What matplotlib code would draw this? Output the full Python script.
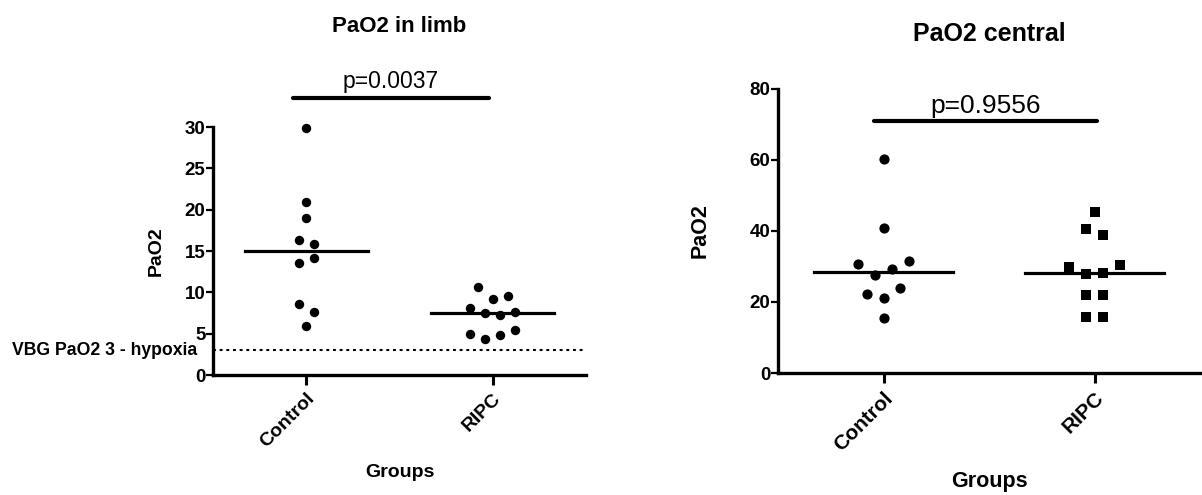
import numpy as np
import matplotlib
matplotlib.use("Agg")
import matplotlib.pyplot as plt

# values (order within a list = left-to-right order inside a row)
groups = ["Control", "RIPC"]
limb_control = [29.9, 20.9, 19.0, 16.3, 15.9, 13.5, 14.2, 8.6, 7.6, 5.9]
limb_ripc = [10.6, 9.25, 9.5, 8.1, 7.5, 7.2, 7.6, 4.9, 4.35, 4.8, 5.5]
central_control = [60.3, 40.9, 30.8, 27.7, 29.4, 31.6, 22.2, 21.1, 23.9, 15.5]
central_ripc = [45.4, 40.7, 38.9, 29.9, 27.9, 28.2, 30.5, 22.1, 22.1, 15.9, 15.9]
p_limb = "p=0.0037"
p_central = "p=0.9556"
hypoxia_level = 3
hypoxia_label = "VBG PaO2 3 - hypoxia"
limb_ticks = [0, 5, 10, 15, 20, 25, 30]
central_ticks = [0, 20, 40, 60, 80]

plt.rcParams['font.family'] = ['Liberation Sans', 'DejaVu Sans']
W, H = 1202, 495


def swarm(vals, row_h, step=0.08):
    """prism-like dot spread: bin values into rows, centre each row on the group."""
    vals = np.asarray(vals, float)
    order = np.argsort(-vals, kind="stable")
    rows, cur, top = [], [], None
    for i in order:
        if top is None or top - vals[i] <= row_h:
            if top is None: top = vals[i]
            cur.append(i)
        else:
            rows.append(cur); cur = [i]; top = vals[i]
    rows.append(cur)
    off = np.zeros(len(vals))
    for r in rows:
        r = sorted(r)
        for k, i in enumerate(r):
            off[i] = (k - (len(r) - 1) / 2) * step
    return off


def panel(rect, ctl, rip, ylim, ticks, row_h, msize, markers, fs_lab, fs_xt, title, t_base,
          ptxt, pbar, p_base, fs_p, fs_title, xlab_base, ylab_x):
    ax = fig.add_axes(rect)
    for g, (vals, m) in enumerate(zip([ctl, rip], markers)):
        x = g + swarm(vals, row_h)
        ax.scatter(x, vals, s=msize[m], marker=m, color="k", linewidths=0, zorder=3,
                   clip_on=False)
        med = np.median(vals)
        ax.plot([g - 0.33, g + 0.33], [med, med], color="k", lw=2.3, zorder=2)
    ax.set_xlim(-0.5, 1.5); ax.set_ylim(*ylim)
    ax.set_xticks(range(len(groups)))
    ax.set_xticklabels(groups, rotation=45, ha="right", rotation_mode="anchor",
                       fontsize=fs_xt, fontweight="bold")
    ax.set_yticks(ticks)
    ax.set_yticklabels([str(t) for t in ticks], fontsize=13.5, fontweight="bold")
    for s in ["top", "right"]: ax.spines[s].set_visible(False)
    for s in ["left", "bottom"]: ax.spines[s].set_linewidth(2.4)
    ax.tick_params(axis="y", length=5, width=1.6, pad=0.5)
    ax.tick_params(axis="x", length=7, width=2.2, pad=4)
    # significance bar
    x0, x1, yb = pbar
    ax.plot([x0, x1], [yb, yb], color="k", lw=3, solid_capstyle="round", clip_on=False)
    cx = rect[0] + rect[2] * ((x0 + x1) / 2 + 0.5) / 2
    fig.text(cx, 1 - p_base / H, ptxt, ha="center", va="baseline", fontsize=fs_p)
    fig.text(rect[0] + rect[2] / 2, 1 - t_base / H, title, ha="center", va="baseline",
             fontsize=fs_title, fontweight="bold")
    fig.text(rect[0] + rect[2] / 2, 1 - xlab_base / H, "Groups", ha="center",
             va="baseline", fontsize=fs_lab, fontweight="bold")
    ax.set_ylabel("PaO2", fontsize=fs_lab, fontweight="bold")
    ax.yaxis.set_label_coords(ylab_x, 0.5)
    return ax


fig = plt.figure(figsize=(W / 100, H / 100), dpi=100)

ax1 = panel([213 / W, 1 - 375 / H, 373 / W, 248 / H], limb_control, limb_ripc,
            (0, 30), limb_ticks, 1.8, {"o": 46}, ["o", "o"], 14, 14, "PaO2 in limb", 32,
            p_limb, (-0.07, 0.98, 33.5), 88, 16.5, 16, 477, -0.13)
ax1.axhline(hypoxia_level, color="k", lw=1.5, linestyle=(0, (1.4, 1.8)), zorder=1)
ax1.text(-0.043, hypoxia_level, hypoxia_label, transform=ax1.get_yaxis_transform(),
         ha="right", va="center", fontsize=12.7, fontweight="bold")

ax2 = panel([778 / W, 1 - 373 / H, 422 / W, 284 / H], central_control, central_ripc,
            (0, 80), central_ticks, 4.5, {"o": 54, "s": 58}, ["o", "s"], 15.5, 15,
            "PaO2 central", 41, p_central, (-0.047, 1.01, 71), 113, 19, 18, 487, -0.16)

fig.savefig("out.png", dpi=100)
